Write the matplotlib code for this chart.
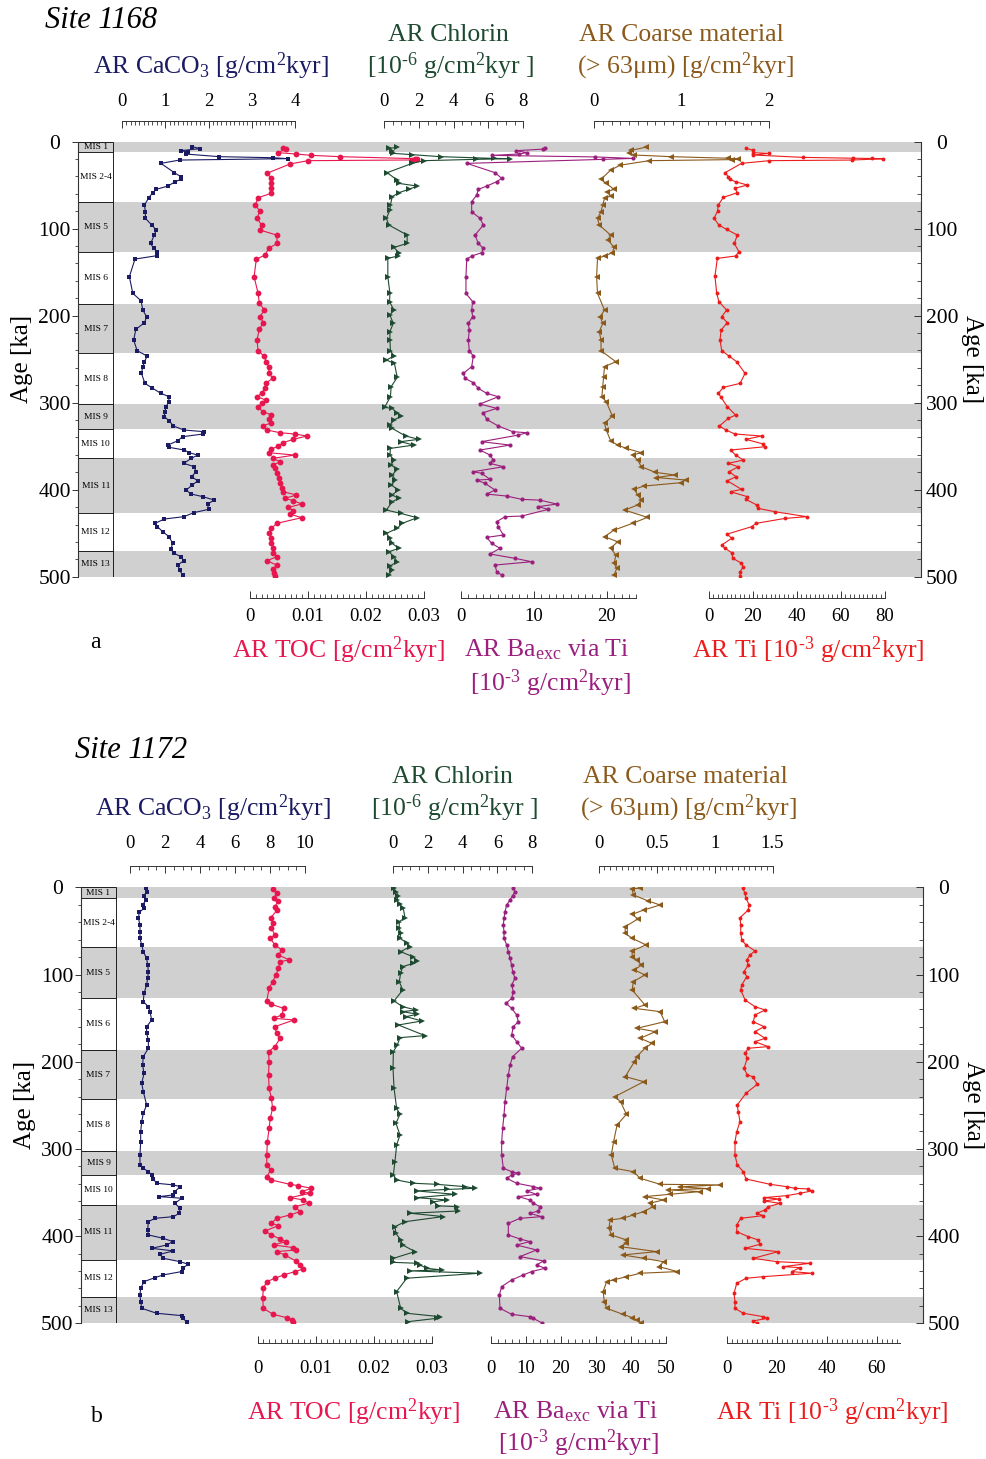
import matplotlib
matplotlib.use("Agg")
import matplotlib.pyplot as plt
from matplotlib.ticker import MultipleLocator, FixedLocator, FormatStrFormatter

plt.rcParams["font.family"] = ["Liberation Serif", "DejaVu Serif"]
plt.rcParams["mathtext.fontset"] = "custom"
plt.rcParams["mathtext.rm"] = "Liberation Serif"
plt.rcParams["mathtext.it"] = "Liberation Serif:italic"
plt.rcParams["mathtext.default"] = "regular"

W, H = 986, 1459

NAVY = "#1b1b63"
CRIMSON = "#e8164f"
GREEN = "#1d4a30"
PURPLE = "#9b1f7d"
BROWN = "#8b5a1b"
RED = "#ec1c1c"
GRAY = "#d0d0d0"
AXC = "#333333"

# marine isotope stages (ka)
mis_names = ["MIS 1", "MIS 2-4", "MIS 5", "MIS 6", "MIS 7", "MIS 8",
             "MIS 9", "MIS 10", "MIS 11", "MIS 12", "MIS 13"]
mis_bounds = [0, 12, 69, 127, 187, 243, 302, 330, 364, 427, 470, 500]
mis_shaded = [True, False, True, False, True, False, True, False, True, False, True]
age_ticks = [0, 100, 200, 300, 400, 500]

# ---------------- Site 1168 ----------------
a_caco3_age = [5.7, 8.0, 10.3, 11.9, 14.2, 17.2, 18.4, 19.5, 21.1, 24.9,
               35.6, 40.2, 43.3, 46.0, 51.0, 54.8, 58.6, 64.4, 72.8, 80.5,
               88.1, 95.8, 101.5, 107.3, 116.9, 122.6, 126.4, 131.0, 134.9, 155.2,
               174.3, 182.8, 193.5, 201.1, 208.0, 215.7, 228.0, 240.2, 246.4, 252.9,
               258.6, 266.3, 277.8, 282.8, 289.3, 293.1, 298.9, 304.6, 310.3, 316.1,
               320.7, 326.8, 331.4, 333.3, 336.0, 339.1, 343.7, 348.7, 351.3, 354.4,
               357.5, 360.2, 364.0, 369.7, 373.6, 379.3, 385.1, 389.7, 394.6, 400.4,
               405.0, 408.0, 411.9, 416.5, 422.6, 426.4, 431.0, 433.7, 438.7, 442.5,
               448.3, 454.0, 461.7, 468.6, 473.2, 477.0, 481.6, 486.6, 492.3, 498.1]
a_caco3 = [1.63, 1.80, 1.36, 1.52, 1.48, 2.25, 3.48, 3.83, 1.33, 0.90,
           1.21, 1.36, 1.36, 1.23, 1.06, 0.79, 0.71, 0.62, 0.52, 0.54,
           0.54, 0.69, 0.79, 0.75, 0.66, 0.73, 0.82, 0.81, 0.30, 0.17,
           0.25, 0.44, 0.48, 0.57, 0.52, 0.32, 0.27, 0.35, 0.58, 0.52,
           0.48, 0.45, 0.53, 0.69, 0.90, 1.09, 1.08, 1.02, 0.99, 0.98,
           1.09, 1.19, 1.43, 1.90, 1.87, 1.40, 1.29, 1.06, 1.09, 1.44,
           1.56, 1.75, 1.60, 1.43, 1.67, 1.71, 1.61, 1.75, 1.63, 1.48,
           1.60, 1.87, 2.13, 1.98, 2.00, 1.66, 1.43, 0.98, 0.76, 0.82,
           0.94, 1.09, 1.17, 1.13, 1.21, 1.36, 1.43, 1.29, 1.33, 1.40]

a_toc_age = [6.9, 8.4, 12.6, 14.1, 15.7, 17.2, 19.5, 20.2, 21.0, 21.8,
             25.6, 36.4, 42.1, 47.9, 53.6, 59.4, 64.4, 72.8, 79.7, 88.1,
             95.8, 101.5, 107.3, 116.9, 122.6, 130.3, 134.9, 155.2, 174.3, 185.8,
             193.5, 201.1, 208.0, 215.7, 228.0, 240.2, 246.4, 252.9, 259.4, 265.5,
             272.0, 277.8, 283.5, 289.3, 293.1, 296.9, 300.8, 305.4, 310.3, 314.2,
             318.9, 323.0, 326.8, 331.4, 334.5, 336.0, 338.3, 342.1, 345.9, 349.8,
             353.6, 357.5, 360.2, 364.0, 367.8, 371.6, 375.5, 381.2, 387.0, 392.7,
             398.5, 402.3, 406.1, 410.0, 412.6, 416.5, 420.3, 424.1, 428.0, 432.2,
             438.7, 444.4, 450.2, 455.9, 461.7, 467.4, 473.2, 477.0, 481.6, 486.6,
             491.6, 496.2, 499.2]
a_toc = [0.0057, 0.0062, 0.0048, 0.0079, 0.0106, 0.0155, 0.0284, 0.0288, 0.0280, 0.0100,
         0.0069, 0.0029, 0.0037, 0.0036, 0.0037, 0.0036, 0.0014, 0.0009, 0.0017, 0.0012,
         0.0020, 0.0017, 0.0046, 0.0047, 0.0032, 0.0026, 0.0011, 0.0007, 0.0014, 0.0016,
         0.0025, 0.0017, 0.0023, 0.0016, 0.0012, 0.0014, 0.0024, 0.0028, 0.0033, 0.0032,
         0.0039, 0.0027, 0.0026, 0.0020, 0.0012, 0.0027, 0.0020, 0.0013, 0.0023, 0.0037,
         0.0033, 0.0036, 0.0023, 0.0029, 0.0052, 0.0077, 0.0098, 0.0075, 0.0057, 0.0049,
         0.0036, 0.0033, 0.0077, 0.0039, 0.0052, 0.0040, 0.0043, 0.0046, 0.0050, 0.0052,
         0.0055, 0.0057, 0.0080, 0.0060, 0.0075, 0.0089, 0.0066, 0.0075, 0.0069, 0.0089,
         0.0046, 0.0037, 0.0033, 0.0037, 0.0036, 0.0040, 0.0039, 0.0047, 0.0029, 0.0046,
         0.0040, 0.0041, 0.0043]

a_chl_age = [6.5, 7.7, 10.3, 13.4, 14.9, 17.2, 19.2, 19.5, 20.3, 21.8,
             24.9, 35.6, 44.1, 47.9, 51.0, 54.8, 58.6, 63.2, 72.8, 78.5,
             88.1, 95.8, 107.3, 116.9, 121.5, 127.6, 131.4, 134.1, 155.2, 174.3,
             183.9, 193.5, 199.2, 208.8, 218.4, 228.0, 240.2, 246.4, 251.0, 254.8,
             270.9, 281.6, 293.1, 305.4, 306.5, 312.3, 315.3, 319.9, 325.7, 329.5,
             338.3, 342.1, 344.8, 348.7, 352.5, 360.2, 365.9, 371.6, 376.6, 383.1,
             388.9, 394.6, 400.4, 406.1, 410.0, 413.8, 423.4, 427.2, 432.2, 438.7,
             444.4, 450.2, 455.9, 461.7, 467.4, 471.3, 477.0, 482.8, 487.7, 492.3,
             498.1]
a_chl = [0.76, 0.28, 0.47, 0.53, 1.62, 3.25, 6.31, 7.27, 5.26, 2.29,
         1.62, 0.18, 0.76, 0.85, 1.91, 1.43, 0.85, 0.47, 0.37, 0.34,
         0.14, 0.28, 1.33, 1.33, 0.57, 0.85, 0.81, 0.22, 0.22, 0.34,
         0.32, 0.57, 0.34, 0.53, 0.34, 0.34, 0.37, 0.57, 0.14, 0.60,
         0.76, 0.41, 0.37, 0.03, 0.47, 0.76, 0.99, 0.57, 0.34, 0.47,
         1.24, 2.00, 0.95, 1.71, 0.37, 0.34, 0.57, 0.41, 0.76, 0.47,
         0.66, 0.43, 0.81, 0.47, 0.85, 0.47, 0.14, 0.95, 1.91, 1.04,
         0.76, 0.14, 0.34, 0.47, 0.85, 0.28, 0.57, 0.76, 0.34, 0.47,
         0.28]

a_ba_age = [7.0, 8.5, 10.3, 12.6, 14.2, 15.7, 17.5, 19.2, 20.3, 24.9,
            35.6, 42.1, 46.0, 51.0, 54.8, 61.3, 69.0, 80.5, 88.1, 95.8,
            107.3, 116.9, 122.6, 127.6, 131.4, 135.2, 155.2, 174.3, 183.9, 193.5,
            201.1, 208.8, 216.5, 228.0, 240.2, 246.4, 258.6, 266.3, 272.0, 277.0,
            283.5, 289.3, 293.1, 301.5, 306.5, 311.5, 319.2, 326.8, 333.3, 334.5,
            337.2, 344.8, 348.7, 354.4, 360.2, 365.9, 369.7, 373.6, 379.3, 381.2,
            388.1, 388.9, 392.7, 400.4, 405.0, 407.3, 411.1, 412.0, 416.5, 419.5,
            422.6, 430.3, 431.0, 436.8, 442.5, 452.1, 454.8, 461.7, 467.4, 473.9,
            478.9, 482.8, 486.6, 494.3, 498.1]
a_ba = [11.5, 11.3, 7.6, 9.0, 7.9, 4.2, 18.4, 23.6, 19.5, 0.8,
        4.66, 5.57, 4.89, 3.52, 2.37, 2.15, 1.46, 1.46, 2.60, 3.06,
        1.92, 2.37, 3.06, 2.83, 1.46, 0.78, 0.68, 0.68, 1.60, 1.46,
        1.60, 1.00, 1.14, 1.00, 1.14, 1.69, 1.46, 0.32, 0.55, 1.69,
        2.37, 3.52, 5.11, 2.60, 4.89, 3.06, 3.52, 5.11, 7.08, 9.00,
        7.85, 2.83, 6.71, 2.60, 3.97, 4.43, 3.97, 5.80, 1.69, 2.83,
        3.97, 2.15, 3.29, 4.66, 3.52, 6.26, 8.31, 10.82, 13.11, 10.59,
        11.96, 8.31, 6.03, 4.89, 5.11, 5.80, 3.52, 4.20, 5.34, 3.97,
        7.40, 9.68, 4.66, 4.89, 5.57]

a_coarse_age = [6.4, 10.0, 12.6, 15.3, 17.2, 19.0, 20.0, 20.6, 21.8, 27.0,
                32.6, 43.3, 47.9, 54.8, 57.5, 62.5, 65.1, 72.8, 80.5, 88.1,
                95.8, 107.3, 113.0, 121.5, 127.6, 131.4, 134.1, 155.2, 174.3, 193.5,
                201.1, 208.8, 218.4, 228.0, 240.2, 252.9, 258.6, 270.1, 281.6, 293.1,
                298.9, 315.3, 323.8, 331.4, 343.7, 348.7, 352.5, 357.5, 360.2, 365.9,
                373.6, 380.0, 383.1, 386.0, 388.9, 392.0, 395.8, 399.6, 406.1, 411.9,
                417.6, 423.4, 431.8, 438.7, 446.4, 454.0, 459.8, 467.4, 475.1, 484.7,
                490.4, 498.1]
a_coarse = [0.59, 0.42, 0.40, 0.46, 0.88, 1.53, 1.64, 1.58, 0.63, 0.30,
            0.19, 0.08, 0.14, 0.23, 0.15, 0.19, 0.12, 0.10, 0.08, 0.04,
            0.06, 0.19, 0.16, 0.23, 0.21, 0.12, 0.04, 0.03, 0.04, 0.12,
            0.07, 0.10, 0.06, 0.08, 0.08, 0.25, 0.12, 0.11, 0.10, 0.09,
            0.14, 0.21, 0.12, 0.14, 0.19, 0.27, 0.37, 0.54, 0.44, 0.50,
            0.54, 0.70, 0.92, 0.71, 1.05, 0.99, 0.57, 0.46, 0.50, 0.54,
            0.50, 0.35, 0.61, 0.44, 0.23, 0.12, 0.27, 0.19, 0.25, 0.23,
            0.26, 0.23]

a_ti_age = [7.7, 9.6, 12.6, 13.4, 15.3, 18.0, 19.0, 19.3, 19.6, 21.1,
            21.8, 24.9, 35.6, 40.2, 43.3, 46.0, 49.8, 53.6, 58.6, 64.0,
            72.8, 79.7, 88.1, 95.8, 100.8, 107.3, 116.9, 126.4, 131.4, 134.1,
            154.4, 174.3, 183.9, 193.5, 201.1, 208.0, 216.5, 228.0, 240.2, 246.4,
            252.9, 266.3, 277.8, 282.4, 289.3, 293.1, 304.6, 314.2, 318.0, 326.8,
            331.4, 336.0, 338.3, 342.1, 347.5, 350.6, 354.4, 360.2, 365.9, 369.7,
            373.6, 379.3, 385.1, 389.7, 399.6, 402.3, 408.0, 411.1, 417.6, 421.5,
            425.3, 431.0, 433.0, 438.7, 442.5, 451.0, 455.9, 463.6, 467.4, 472.4,
            478.9, 483.9, 488.5, 494.3, 499.2]
a_ti = [16.8, 19.8, 20.2, 27.4, 20.2, 42.6, 65.6, 74.2, 79.2, 64.8,
        27.4, 14.8, 7.3, 8.8, 9.5, 12.1, 17.4, 11.8, 12.9, 6.5,
        4.2, 3.9, 2.3, 4.5, 8.0, 12.9, 11.5, 13.6, 12.1, 3.8,
        2.7, 3.5, 4.5, 8.0, 5.8, 8.3, 5.5, 5.0, 5.8, 9.1,
        12.6, 16.4, 14.1, 6.5, 4.2, 5.3, 8.3, 12.1, 8.8, 4.7,
        7.7, 11.8, 23.9, 16.8, 24.7, 25.5, 9.8, 12.1, 15.6, 8.8,
        13.3, 9.2, 12.3, 8.3, 14.8, 9.8, 17.4, 16.8, 21.7, 22.4,
        30.0, 44.4, 34.5, 21.4, 19.4, 8.3, 10.3, 5.8, 7.3, 10.3,
        10.8, 14.4, 15.6, 14.1, 14.1]

# ---------------- Site 1172 ----------------
b_caco3_age = [1.1, 4.9, 9.6, 14.5, 20.3, 24.1, 28.7, 35.6, 43.2, 50.8,
               58.5, 66.1, 73.8, 81.4, 89.1, 96.7, 104.4, 112.0, 121.6, 131.1,
               136.9, 142.6, 152.1, 159.8, 167.4, 175.1, 184.6, 194.2, 203.7, 213.3,
               224.8, 234.3, 249.6, 259.2, 268.7, 280.2, 291.7, 307.0, 318.4, 322.2,
               326.1, 329.9, 334.5, 339.4, 341.3, 343.2, 349.0, 352.8, 354.7, 356.6,
               362.4, 368.1, 373.9, 377.7, 379.6, 383.4, 392.9, 398.7, 402.5, 406.3,
               410.2, 414.0, 417.0, 420.9, 425.5, 429.3, 432.3, 436.2, 440.7, 444.5,
               447.6, 452.2, 459.9, 467.5, 475.1, 482.8, 488.5, 491.2, 494.3, 498.1]
b_caco3 = [0.91, 0.95, 0.80, 0.91, 0.72, 0.80, 0.53, 0.48, 0.57, 0.57,
           0.57, 0.67, 0.76, 0.95, 1.01, 1.05, 1.01, 0.95, 0.80, 0.76,
           1.05, 1.14, 1.24, 0.95, 0.95, 1.05, 1.05, 0.76, 0.72, 0.80,
           0.67, 0.76, 0.95, 0.76, 0.67, 0.61, 0.61, 0.57, 0.57, 0.76,
           1.05, 1.24, 1.33, 1.52, 2.48, 2.86, 2.57, 2.48, 1.68, 2.95,
           2.57, 2.86, 2.82, 2.48, 1.43, 1.05, 1.01, 1.05, 1.90, 2.44,
           2.10, 1.24, 2.48, 1.71, 1.90, 2.86, 3.33, 3.05, 2.95, 1.90,
           1.43, 0.80, 0.61, 0.57, 0.61, 0.67, 1.52, 2.95, 3.01, 3.24]

b_toc_age = [1.9, 6.9, 12.6, 15.7, 22.2, 26.0, 34.8, 41.3, 47.0, 54.7,
             58.5, 66.1, 71.9, 77.6, 83.3, 85.2, 92.9, 100.5, 108.2, 115.8,
             130.4, 134.2, 138.8, 146.4, 150.2, 152.1, 159.8, 167.4, 173.2, 182.7,
             188.5, 199.9, 215.2, 230.5, 242.0, 253.4, 264.9, 276.4, 291.7, 307.0,
             318.4, 324.2, 331.8, 335.6, 340.6, 342.1, 345.2, 349.0, 350.9, 355.9,
             358.5, 362.3, 366.2, 371.9, 375.8, 379.6, 385.3, 388.0, 394.1, 398.7,
             403.3, 406.3, 410.2, 413.2, 415.9, 417.8, 421.6, 428.5, 433.1, 437.7,
             440.7, 444.5, 448.4, 452.2, 459.9, 471.3, 482.8, 489.7, 493.5, 496.2,
             498.9]
b_toc = [0.0026, 0.0033, 0.0028, 0.0036, 0.0030, 0.0034, 0.0023, 0.0026, 0.0024, 0.0030,
         0.0022, 0.0030, 0.0042, 0.0036, 0.0055, 0.0039, 0.0036, 0.0032, 0.0026, 0.0020,
         0.0016, 0.0024, 0.0045, 0.0042, 0.0028, 0.0063, 0.0030, 0.0033, 0.0039, 0.0030,
         0.0019, 0.0020, 0.0019, 0.0020, 0.0024, 0.0026, 0.0022, 0.0020, 0.0017, 0.0016,
         0.0016, 0.0023, 0.0016, 0.0023, 0.0056, 0.0070, 0.0093, 0.0076, 0.0091, 0.0056,
         0.0079, 0.0088, 0.0065, 0.0073, 0.0056, 0.0033, 0.0024, 0.0036, 0.0013, 0.0024,
         0.0039, 0.0049, 0.0028, 0.0062, 0.0066, 0.0033, 0.0047, 0.0066, 0.0073, 0.0079,
         0.0065, 0.0045, 0.0030, 0.0016, 0.0010, 0.0009, 0.0010, 0.0027, 0.0050, 0.0059,
         0.0062]

b_chl_age = [1.1, 5.0, 9.6, 14.5, 19.5, 24.1, 34.8, 39.4, 47.0, 52.8,
             58.5, 64.2, 68.0, 73.8, 79.5, 84.5, 87.2, 91.0, 98.6, 108.2,
             117.7, 130.4, 136.9, 140.7, 142.6, 145.6, 148.3, 153.3, 157.9, 170.1,
             172.4, 180.8, 188.5, 207.6, 230.5, 253.4, 260.3, 270.6, 284.0, 295.5,
             314.6, 329.9, 335.6, 339.4, 340.6, 343.3, 345.2, 346.5, 348.2, 352.1,
             355.9, 358.5, 360.7, 365.3, 366.2, 371.2, 373.8, 377.6, 383.5, 389.2,
             396.8, 404.5, 410.2, 417.8, 425.5, 430.1, 431.2, 433.1, 436.9, 438.8,
             439.9, 442.6, 448.3, 463.6, 482.8, 488.5, 492.4, 494.3, 498.1]
b_chl = [0.06, 0.17, 0.31, 0.21, 0.40, 0.59, 0.69, 0.36, 0.36, 0.44,
         0.40, 0.82, 0.98, 0.44, 1.13, 1.40, 1.17, 0.56, 0.44, 0.36,
         0.56, 0.06, 0.56, 1.32, 0.56, 1.40, 0.75, 1.65, 0.31, 1.84,
         0.40, 0.25, 0.02, 0.00, 0.06, 0.21, 0.40, 0.17, 0.40, 0.21,
         0.11, 0.02, 0.21, 1.17, 2.51, 4.14, 4.71, 3.08, 1.36, 3.56,
         1.36, 3.08, 2.32, 2.61, 3.66, 3.75, 0.98, 2.89, 0.69, 0.11,
         0.17, 0.44, 0.56, 1.26, 0.02, 0.02, 1.40, 1.55, 1.93, 2.80,
         1.00, 5.00, 0.79, 0.21, 0.44, 0.79, 2.70, 2.51, 0.88]

b_ba_age = [1.1, 5.0, 9.6, 14.5, 20.3, 27.9, 35.6, 43.2, 50.8, 58.5,
            66.1, 73.8, 81.4, 89.1, 96.7, 104.4, 112.0, 119.6, 127.3, 133.0,
            138.8, 146.4, 154.1, 159.8, 169.3, 176.9, 184.6, 194.2, 203.7, 215.2,
            230.5, 245.8, 261.1, 276.4, 291.7, 307.0, 322.2, 326.1, 328.0, 329.9,
            333.7, 339.4, 343.2, 345.2, 348.2, 352.1, 354.7, 358.5, 362.4, 366.2,
            371.2, 373.9, 377.7, 379.6, 385.3, 398.7, 403.3, 406.3, 410.2, 415.9,
            423.5, 428.5, 433.1, 436.9, 440.7, 444.5, 450.3, 457.9, 467.5, 482.8,
            489.7, 492.4, 494.3, 499.5]
b_ba = [6.19, 6.86, 6.19, 5.43, 4.48, 4.00, 3.71, 3.52, 3.71, 3.71,
        4.48, 4.95, 5.43, 5.90, 6.19, 6.86, 5.90, 6.38, 5.90, 4.29,
        5.90, 7.33, 7.81, 6.38, 5.90, 7.33, 8.76, 6.19, 5.43, 4.95,
        4.48, 4.00, 3.71, 3.33, 3.05, 3.05, 3.52, 5.90, 7.81, 5.90,
        4.48, 7.33, 12.1, 14.0, 10.2, 13.0, 7.81, 11.1, 12.1, 14.0,
        13.5, 11.1, 14.5, 8.29, 4.95, 4.95, 8.29, 11.1, 7.33, 13.0,
        8.29, 15.0, 13.0, 15.4, 11.6, 9.24, 5.90, 3.05, 2.38, 2.57,
        5.90, 11.1, 12.1, 14.5]

b_coarse_age = [0.8, 1.9, 8.8, 15.7, 20.3, 26.0, 31.0, 36.3, 45.1, 52.8,
                58.5, 66.1, 73.0, 79.5, 83.3, 89.1, 94.8, 100.5, 108.2, 117.7,
                134.9, 138.8, 142.6, 154.1, 161.7, 165.5, 173.2, 178.9, 184.6, 194.2,
                199.9, 217.1, 222.9, 240.1, 245.8, 260.3, 272.6, 291.7, 307.0, 322.2,
                326.1, 333.7, 340.6, 341.3, 343.5, 345.5, 347.0, 349.0, 352.0, 354.7,
                358.5, 362.4, 366.2, 371.9, 375.8, 379.6, 381.5, 391.0, 398.7, 404.4,
                408.3, 412.1, 417.8, 421.6, 425.5, 429.3, 435.0, 440.7, 442.6, 446.5,
                450.3, 452.2, 463.6, 475.1, 482.8, 489.7, 493.5, 496.2, 499.5]
b_coarse = [0.36, 0.29, 0.30, 0.43, 0.53, 0.39, 0.29, 0.34, 0.23, 0.23,
            0.29, 0.41, 0.29, 0.29, 0.33, 0.37, 0.31, 0.40, 0.30, 0.29,
            0.40, 0.31, 0.53, 0.57, 0.33, 0.49, 0.36, 0.46, 0.40, 0.33,
            0.31, 0.23, 0.39, 0.14, 0.19, 0.24, 0.16, 0.13, 0.11, 0.14,
            0.30, 0.36, 0.53, 1.05, 0.70, 0.94, 0.60, 0.87, 0.62, 0.40,
            0.56, 0.44, 0.47, 0.39, 0.30, 0.21, 0.10, 0.09, 0.11, 0.24,
            0.24, 0.19, 0.50, 0.21, 0.39, 0.56, 0.52, 0.68, 0.36, 0.24,
            0.13, 0.07, 0.04, 0.05, 0.07, 0.21, 0.29, 0.33, 0.37]

b_ti_age = [1.1, 6.9, 12.6, 20.3, 26.0, 34.8, 43.2, 52.8, 60.4, 66.1,
            73.0, 77.6, 83.3, 89.1, 96.7, 102.4, 112.0, 117.7, 129.2, 136.9,
            140.7, 146.4, 154.1, 159.8, 165.5, 173.2, 177.0, 182.7, 184.6, 190.4,
            196.1, 207.6, 215.2, 217.1, 225.9, 236.2, 249.6, 257.3, 268.7, 280.2,
            291.7, 307.0, 318.4, 326.1, 334.5, 340.6, 343.3, 345.2, 345.9, 348.2,
            350.9, 353.6, 355.9, 357.4, 359.7, 362.4, 366.2, 370.0, 373.9, 376.5,
            379.6, 387.2, 394.9, 400.6, 404.4, 409.4, 414.0, 417.8, 425.5, 429.3,
            431.2, 435.0, 436.2, 440.7, 442.6, 446.5, 448.4, 454.1, 465.6, 475.1,
            482.8, 488.5, 492.4, 494.3, 497.3, 499.5]
b_ti = [6.3, 7.2, 7.6, 8.9, 8.5, 5.2, 5.5, 5.5, 5.9, 7.6,
        11.2, 9.2, 7.9, 8.5, 6.8, 7.9, 5.9, 5.5, 7.2, 11.2,
        15.2, 11.2, 10.5, 14.8, 11.2, 15.2, 11.2, 16.5, 8.5, 7.2,
        8.1, 6.8, 8.1, 10.3, 12.1, 7.6, 4.1, 4.5, 5.2, 3.9,
        3.2, 3.2, 4.1, 6.5, 7.6, 17.2, 23.9, 27.2, 32.5, 33.9,
        29.2, 23.9, 14.8, 20.9, 14.8, 21.2, 16.5, 15.2, 11.9, 14.5,
        5.5, 3.9, 3.9, 8.5, 12.5, 13.2, 7.2, 20.5, 10.5, 19.9,
        33.2, 22.5, 29.2, 25.9, 33.9, 14.5, 7.6, 3.9, 2.8, 3.2,
        3.2, 6.5, 14.5, 15.9, 10.5, 11.9]

fig = plt.figure(figsize=(W / 100, H / 100), dpi=100)


def rect(x0, y0, x1, y1):
    # pixel box (top-left origin) -> figure fraction
    return [x0 / W, 1 - y1 / H, (x1 - x0) / W, (y1 - y0) / H]


def ftext(x, y, s, **kw):
    fig.text(x / W, 1 - y / H, s, **kw)


def age_frame(L, R, top, bot):
    ax = fig.add_axes(rect(L, top, R, bot))
    ax.set_xlim(0, R - L)
    ax.set_ylim(500, 0)
    col = 35
    for i, name in enumerate(mis_names):
        y0, y1 = mis_bounds[i], mis_bounds[i + 1]
        if mis_shaded[i]:
            ax.axhspan(y0, y1, color=GRAY, lw=0, zorder=0)
        ax.text(col / 2, (y0 + y1) / 2, name, fontsize=6.8, ha="center", va="center")
    ax.hlines(mis_bounds, 0, col, color="k", lw=0.6)
    ax.vlines(col, 0, 500, color="k", lw=0.6)
    for side in ("top", "bottom", "right"):
        ax.spines[side].set_visible(False)
    ax.spines["left"].set_color(AXC)
    ax.set_xticks([])
    ax.set_yticks(age_ticks)
    ax.yaxis.set_minor_locator(MultipleLocator(20))
    ax.tick_params(axis="y", which="major", direction="out", length=4, width=0.7,
                   color=AXC, labelsize=15.5, pad=13)
    ax.tick_params(axis="y", which="minor", direction="out", length=2.5, width=0.6, color=AXC)
    plt.setp(ax.get_yticklabels(), ha="center")

    axr = ax.twinx()
    axr.set_ylim(500, 0)
    for side in ("top", "bottom", "left"):
        axr.spines[side].set_visible(False)
    axr.spines["right"].set_color(AXC)
    axr.set_yticks(age_ticks)
    axr.yaxis.set_minor_locator(MultipleLocator(20))
    axr.tick_params(axis="y", which="major", direction="in", length=5, width=0.7,
                    color=AXC, labelsize=15.5, pad=15)
    axr.tick_params(axis="y", which="minor", direction="in", length=3, width=0.6, color=AXC)
    plt.setp(axr.get_yticklabels(), ha="center")
    return ax


def curve(L, R, top, bot, x0, s, ages, vals, color, marker, ms):
    axd = fig.add_axes(rect(L, top, R, bot))
    axd.set_xlim((L - x0) / s, (R - x0) / s)
    axd.set_ylim(500, 0)
    axd.axis("off")
    axd.plot(vals, ages, color=color, lw=0.8, marker=marker, ms=ms, mew=0, zorder=3)


def scale(x0, s, vmax, y, where, labels, minor, fmt, pad):
    x1 = x0 + vmax * s
    if where == "top":
        axs = fig.add_axes(rect(x0, y, x1, y + 0.5))
    else:
        axs = fig.add_axes(rect(x0, y - 0.5, x1, y))
    axs.set_xlim(0, vmax)
    axs.patch.set_visible(False)
    axs.set_yticks([])
    for sp in axs.spines.values():
        sp.set_visible(False)
    axs.spines[where].set_visible(True)
    axs.spines[where].set_color(AXC)
    axs.spines[where].set_linewidth(0.7)
    axs.xaxis.set_ticks_position(where)
    axs.xaxis.set_major_locator(FixedLocator(labels))
    axs.xaxis.set_minor_locator(MultipleLocator(minor))
    axs.xaxis.set_major_formatter(FormatStrFormatter(fmt))
    axs.tick_params(axis="x", which="major", direction="in", length=5, width=0.7,
                    color=AXC, labelsize=13.5, pad=pad)
    axs.tick_params(axis="x", which="minor", direction="in", length=3, width=0.6, color=AXC)


def panel(g, d):
    L, R, top, bot = g["frame"]
    age_frame(L, R, top, bot)
    for key, color, marker, ms in [("caco3", NAVY, "s", 3.4), ("toc", CRIMSON, "o", 4.2),
                                   ("chl", GREEN, ">", 3.8), ("ba", PURPLE, "o", 3.0),
                                   ("coarse", BROWN, "<", 3.8), ("ti", RED, "o", 2.8)]:
        x0, s, vmax, y, where, labels, minor, fmt, pad = g[key]
        curve(L, R, top, bot, x0, s, d[key + "_age"], d[key], color, marker, ms)
        scale(x0, s, vmax, y, where, labels, minor, fmt, pad)
    ftext(g["ageL"], (top + bot) / 2, "Age [ka]", fontsize=18, rotation=90,
          ha="center", va="center")
    ftext(g["ageR"], (top + bot) / 2, "Age [ka]", fontsize=18, rotation=270,
          ha="center", va="center")


geom_a = {
    "frame": (78.3, 921, 141.7, 576.7),
    "caco3": (122, 43.25, 4, 121, "top", [0, 1, 2, 3, 4], 0.1, "%g", 8),
    "chl": (384, 17.4, 8, 121, "top", [0, 2, 4, 6, 8], 0.5, "%g", 8),
    "coarse": (594, 87.5, 2, 121, "top", [0, 1, 2], 0.1, "%g", 8),
    "toc": (250, 5800, 0.03, 598, "bottom", [0, 0.01, 0.02, 0.03], 0.001, "%g", 7),
    "ba": (461, 7.3, 24, 598, "bottom", [0, 10, 20], 1, "%g", 7),
    "ti": (709, 2.2, 80, 598, "bottom", [0, 20, 40, 60, 80], 2, "%g", 7),
    "ageL": 22, "ageR": 972,
}
geom_b = {
    "frame": (81, 922.7, 887.3, 1323.3),
    "caco3": (130, 17.5, 10, 866, "top", [0, 2, 4, 6, 8, 10], 0.5, "%g", 10),
    "chl": (393, 17.4, 8, 866, "top", [0, 2, 4, 6, 8], 0.5, "%g", 10),
    "coarse": (598.5, 116.1, 1.5, 866, "top", [0, 0.5, 1, 1.5], 0.05, "%g", 10),
    "toc": (257.5, 5800, 0.03, 1343, "bottom", [0, 0.01, 0.02, 0.03], 0.001, "%g", 12),
    "ba": (491, 3.5, 50, 1343, "bottom", [0, 10, 20, 30, 40, 50], 2, "%g", 12),
    "ti": (727, 2.5, 69, 1343, "bottom", [0, 20, 40, 60], 2, "%g", 12),
    "ageL": 25, "ageR": 973,
}

data_a = {"caco3_age": a_caco3_age, "caco3": a_caco3, "toc_age": a_toc_age, "toc": a_toc,
          "chl_age": a_chl_age, "chl": a_chl, "ba_age": a_ba_age, "ba": a_ba,
          "coarse_age": a_coarse_age, "coarse": a_coarse, "ti_age": a_ti_age, "ti": a_ti}
data_b = {"caco3_age": b_caco3_age, "caco3": b_caco3, "toc_age": b_toc_age, "toc": b_toc,
          "chl_age": b_chl_age, "chl": b_chl, "ba_age": b_ba_age, "ba": b_ba,
          "coarse_age": b_coarse_age, "coarse": b_coarse, "ti_age": b_ti_age, "ti": b_ti}

panel(geom_a, data_a)
panel(geom_b, data_b)

TS = 18.5
UNIT6 = r"[10$^{\text{-}6}$ g/cm$^2$kyr ]"
UNIT3 = r"[10$^{\text{-}3}$ g/cm$^2$kyr]"
# panel a titles
ftext(45, 20, "Site 1168", fontsize=22, style="italic", va="center", ha="left")
ftext(211, 66, r"AR CaCO$_3$ [g/cm$^2$kyr]", color=NAVY, fontsize=TS, ha="center", va="center")
ftext(448, 35, "AR Chlorin", color=GREEN, fontsize=TS, ha="center", va="center")
ftext(451, 66, UNIT6, color=GREEN, fontsize=TS, ha="center", va="center")
ftext(681, 35, "AR Coarse material", color=BROWN, fontsize=TS, ha="center", va="center")
ftext(685, 66, r"(> 63μm) [g/cm$^2$kyr]", color=BROWN, fontsize=TS, ha="center", va="center")
ftext(338, 650, r"AR TOC [g/cm$^2$kyr]", color=CRIMSON, fontsize=TS, ha="center", va="center")
ftext(547, 650, r"AR Ba$_{exc}$ via Ti", color=PURPLE, fontsize=TS, ha="center", va="center")
ftext(550, 683, UNIT3, color=PURPLE, fontsize=TS, ha="center", va="center")
ftext(808, 650, "AR Ti " + UNIT3, color=RED, fontsize=TS, ha="center", va="center")
ftext(95, 643, "a", fontsize=17, ha="center", va="center")

# panel b titles
ftext(75, 750, "Site 1172", fontsize=22, style="italic", va="center", ha="left")
ftext(213, 808, r"AR CaCO$_3$ [g/cm$^2$kyr]", color=NAVY, fontsize=TS, ha="center", va="center")
ftext(452, 777, "AR Chlorin", color=GREEN, fontsize=TS, ha="center", va="center")
ftext(455, 808, UNIT6, color=GREEN, fontsize=TS, ha="center", va="center")
ftext(685, 777, "AR Coarse material", color=BROWN, fontsize=TS, ha="center", va="center")
ftext(688, 808, r"(> 63μm) [g/cm$^2$kyr]", color=BROWN, fontsize=TS, ha="center", va="center")
ftext(353, 1412, r"AR TOC [g/cm$^2$kyr]", color=CRIMSON, fontsize=TS, ha="center", va="center")
ftext(576, 1412, r"AR Ba$_{exc}$ via Ti", color=PURPLE, fontsize=TS, ha="center", va="center")
ftext(578, 1443, UNIT3, color=PURPLE, fontsize=TS, ha="center", va="center")
ftext(832, 1412, "AR Ti " + UNIT3, color=RED, fontsize=TS, ha="center", va="center")
ftext(97, 1416, "b", fontsize=17, ha="center", va="center")

fig.savefig("out.png", dpi=100)
